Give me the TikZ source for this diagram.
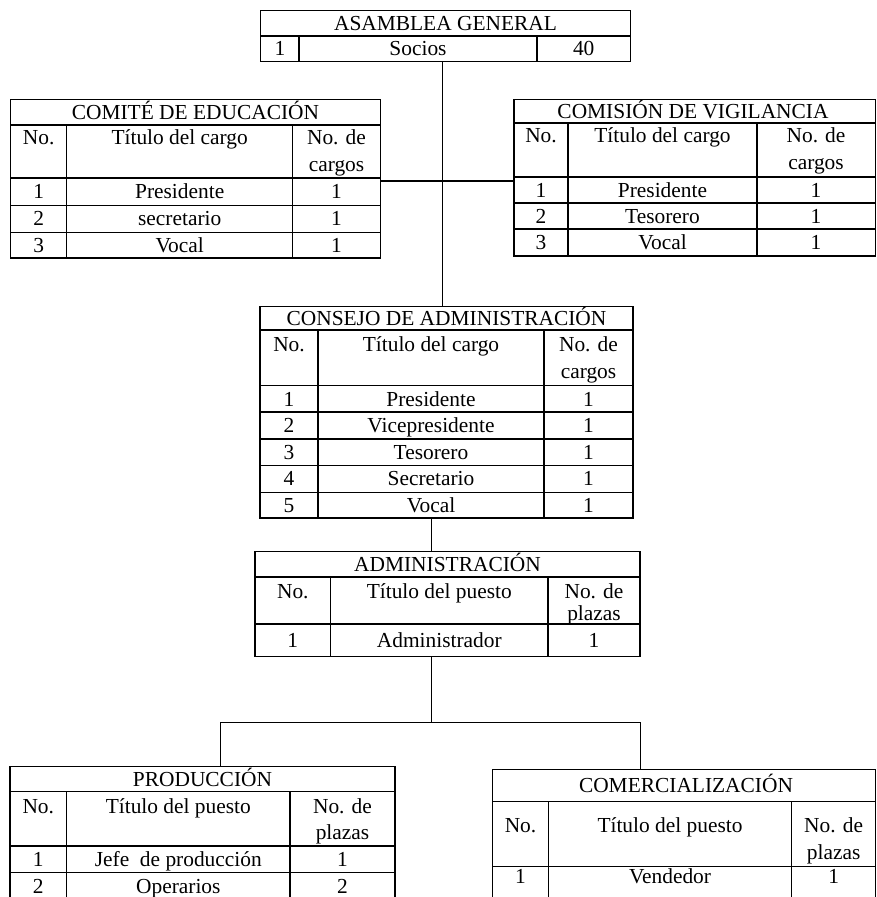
\documentclass[tikz,border=0pt]{standalone}
\usepackage{fontspec}
\setmainfont{Liberation Serif}
\usetikzlibrary{fit}
\usetikzlibrary{positioning}

\begin{document}
\begin{tikzpicture}[x=0.5pt, y=-0.5pt,
  tbl/.style={draw, line width=0.6pt, inner sep=0pt},
  rule/.style={line width=0.6pt},
  link/.style={line width=0.6pt},
  txt/.style={inner sep=0pt, text height=7.1pt, text depth=0pt,
    font=\fontsize{10.7}{13}\selectfont}]

\useasboundingbox (0,0) rectangle (876,897);
\clip (0,0) rectangle (876,897);

% asamblea general
\node[tbl, fit={(260.5,10.5) (630.5,61.5)}] (asam) {};
\draw[rule] (260.5,36) -- (630.5,36);
\draw[rule] (299,36) -- (299,61.5) (537,36) -- (537,61.5);
\node[txt] (asamT) at (445.5,23.2) {ASAMBLEA GENERAL};
\node[txt] (asamN) at (280,48.8) {1};
\node[txt] (asamC) at (418,48.8) {Socios};
\node[txt] (asamQ) at (583.7,48.8) {40};

% comite de educacion
\node[tbl, fit={(10.7,99.3) (380.3,258)}] (educ) {};
\foreach \y in {125,178,205.7,232.7} \draw[rule] (10.7,\y) -- (380.3,\y);
\foreach \x in {66.7,292.7} \draw[rule] (\x,125) -- (\x,258);
\node[txt] (educT) at (195.5,112.2) {COMITÉ DE EDUCACIÓN};
\node[txt] (educH1) at (38.7,137.5) {No.};
\node[txt] (educH2) at (179.7,137.5) {Título del cargo};
\node[txt] (educH3) at (336.5,137.5) {No. de};
\node[txt] (educH4) at (336.5,164) {cargos};
\foreach \n/\cargo in {1/Presidente,2/secretario,3/Vocal} {
  \node[txt] (educN\n) at (38.7,{191.9+26.8*(\n-1)}) {\n};
  \node[txt] (educC\n) at (179.7,{191.9+26.8*(\n-1)}) {\cargo};
  \node[txt] (educQ\n) at (336.5,{191.9+26.8*(\n-1)}) {1};
}

% comision de vigilancia
\node[tbl, fit={(514,99.3) (875.5,256)}] (vigil) {};
\foreach \y in {123,177,203,229} \draw[rule] (514,\y) -- (875.5,\y);
\foreach \x in {568,757} \draw[rule] (\x,123) -- (\x,256);
\node[txt] (vigilT) at (693,111) {COMISIÓN DE VIGILANCIA};
\node[txt] (vigilH1) at (541,135.5) {No.};
\node[txt] (vigilH2) at (662.5,135.5) {Título del cargo};
\node[txt] (vigilH3) at (816,135.5) {No. de};
\node[txt] (vigilH4) at (816,162) {cargos};
\foreach \n/\cargo in {1/Presidente,2/Tesorero,3/Vocal} {
  \node[txt] (vigilN\n) at (541,{190+26.2*(\n-1)}) {\n};
  \node[txt] (vigilC\n) at (662.5,{190+26.2*(\n-1)}) {\cargo};
  \node[txt] (vigilQ\n) at (816,{190+26.2*(\n-1)}) {1};
}

% consejo de administracion
\node[tbl, fit={(260,306.7) (633,518)}] (consejo) {};
\foreach \y in {330,385.7,412,439,465.7,492.7} \draw[rule] (260,\y) -- (633,\y);
\foreach \x in {318,544} \draw[rule] (\x,330) -- (\x,518);
\node[txt] (consejoT) at (446.5,318.3) {CONSEJO DE ADMINISTRACIÓN};
\node[txt] (consejoH1) at (289,344) {No.};
\node[txt] (consejoH2) at (431,344) {Título del cargo};
\node[txt] (consejoH3) at (588.5,344) {No. de};
\node[txt] (consejoH4) at (588.5,371) {cargos};
\foreach \n/\cargo in {1/Presidente,2/Vicepresidente,3/Tesorero,4/Secretario,5/Vocal} {
  \node[txt] (consejoN\n) at (289,{398.9+26.6*(\n-1)}) {\n};
  \node[txt] (consejoC\n) at (431,{398.9+26.6*(\n-1)}) {\cargo};
  \node[txt] (consejoQ\n) at (588.5,{398.9+26.6*(\n-1)}) {1};
}

% administracion
\node[tbl, fit={(255,551.7) (640,656.7)}] (admin) {};
\foreach \y in {577,624} \draw[rule] (255,\y) -- (640,\y);
\foreach \x in {330.7,548} \draw[rule] (\x,577) -- (\x,656.7);
\node[txt] (adminT) at (447.5,564.3) {ADMINISTRACIÓN};
\node[txt] (adminH1) at (292.8,591.5) {No.};
\node[txt] (adminH2) at (439.3,591.5) {Título del puesto};
\node[txt] (adminH3) at (594,591.5) {No. de};
\node[txt] (adminH4) at (594,613) {plazas};
\node[txt] (adminN1) at (292.8,640.3) {1};
\node[txt] (adminC1) at (439.3,640.3) {Administrador};
\node[txt] (adminQ1) at (594,640.3) {1};

% produccion
\node[tbl, fit={(10,766.7) (395,899.4)}] (prod) {};
\foreach \y in {791.7,846,872.7} \draw[rule] (10,\y) -- (395,\y);
\foreach \x in {66.7,290} \draw[rule] (\x,791.7) -- (\x,899.4);
\node[txt] (prodT) at (202.5,779.2) {PRODUCCIÓN};
\node[txt] (prodH1) at (38.3,806.5) {No.};
\node[txt] (prodH2) at (178.3,806.5) {Título del puesto};
\node[txt] (prodH3) at (342.5,806.5) {No. de};
\node[txt] (prodH4) at (342.5,832) {plazas};
\foreach \n/\puesto/\q in {1/Jefe\ \ de producción/1,2/Operarios/2} {
  \node[txt] (prodN\n) at (38.3,{859.4+26.6*(\n-1)}) {\n};
  \node[txt] (prodC\n) at (178.3,{859.4+26.6*(\n-1)}) {\puesto};
  \node[txt] (prodQ\n) at (342.5,{859.4+26.6*(\n-1)}) {\q};
}

% comercializacion
\node[tbl, fit={(492.7,769.3) (875.5,920)}] (comer) {};
\foreach \y in {801.7,866.7} \draw[rule] (492.7,\y) -- (875.5,\y);
\foreach \x in {548.3,791.7} \draw[rule] (\x,801.7) -- (\x,920);
\node[txt] (comerT) at (686,785.5) {COMERCIALIZACIÓN};
\node[txt] (comerH1) at (520.5,825) {No.};
\node[txt] (comerH2) at (670,825) {Título del puesto};
\node[txt] (comerH3) at (833.6,825) {No. de};
\node[txt] (comerH4) at (833.6,852) {plazas};
\node[txt] (comerN1) at (520.5,876) {1};
\node[txt] (comerC1) at (670,876) {Vendedor};
\node[txt] (comerQ1) at (833.6,876) {1};

% lineas de mando
\coordinate (hub) at (442.7,181);
\draw[link] (hub |- asam.south) -- (hub |- consejo.north);
\draw[link] (educ.east |- hub) -- (vigil.west |- hub);
\coordinate (trunk) at (431.5,722.7);
\draw[link] (trunk |- consejo.south) -- (trunk |- admin.north);
\draw[link] (trunk |- admin.south) -- (trunk);
\coordinate (leftbr) at (220.7,722.7);
\coordinate (rightbr) at (640.7,722.7);
\draw[link] (prod.north -| leftbr) -- (leftbr) -- (rightbr) -- (comer.north -| rightbr);

\end{tikzpicture}
\end{document}
